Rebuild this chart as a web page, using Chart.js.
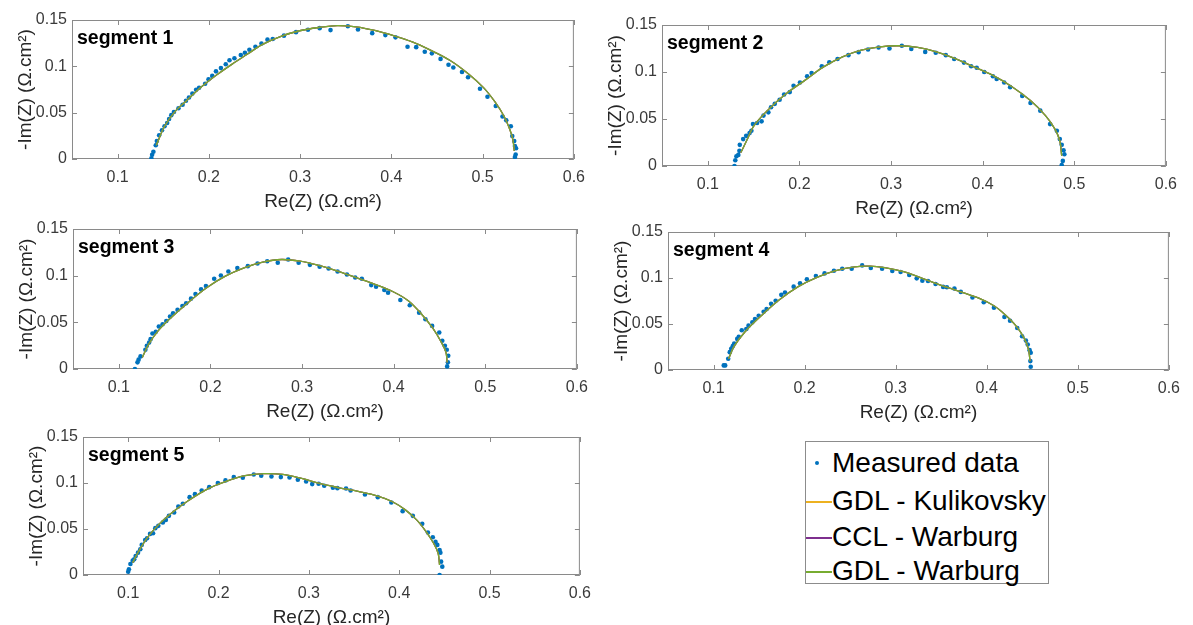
<!DOCTYPE html>
<html>
<head>
<meta charset="utf-8">
<script src="https://cdn.jsdelivr.net/npm/chart.js@4.4.1/dist/chart.umd.min.js"></script>
<style>
    body { margin: 0; width: 1193px; height: 625px; overflow: hidden; position: relative; background: #fff;
           font-family: "Liberation Sans", Arial, sans-serif; }
    canvas { position: absolute; }
    #leyenda { position: absolute; left: 805px; top: 441px; width: 244px; height: 143px;
               border: 1px solid #8c8c8c; box-sizing: border-box; background: #fff; }
    #leyenda .fila { position: absolute; left: 0; height: 36px; display: flex; align-items: center;
                     font-size: 28px; color: #000; white-space: nowrap; }
    #leyenda .marca { width: 26px; height: 36px; position: relative; flex: none; }
</style>
</head>
<body>
<div id="leyenda"></div>
<script>
// --- DATOS ---
const xTicks = [0.1, 0.2, 0.3, 0.4, 0.5, 0.6];
const xTickLabels = ['0.1', '0.2', '0.3', '0.4', '0.5', '0.6'];
const yTicks = [0, 0.05, 0.1, 0.15];
const yTickLabels = ['0', '0.05', '0.1', '0.15'];
const segmentNames = ['segment 1', 'segment 2', 'segment 3', 'segment 4', 'segment 5'];
const seriesNames = ['Measured data', 'GDL - Kulikovsky', 'CCL - Warburg', 'GDL - Warburg'];
const xTitle = 'Re(Z) (\u03A9.cm\u00B2)';
const yTitle = '-Im(Z) (\u03A9.cm\u00B2)';

// segmento 1
const seg1X = [0.137,0.1378,0.1392,0.1418,0.1430,0.1455,0.1486,0.1514,0.1543,0.1564,0.1588,0.1617,0.1667,0.1712,0.1749,0.1782,0.1819,0.1860,0.1893,0.1959,0.1996,0.2037,0.2078,0.2132,0.2185,0.2226,0.2280,0.2350,0.2395,0.2444,0.2510,0.2576,0.2642,0.2700,0.2823,0.2955,0.3086,0.3214,0.3333,0.3523,0.3634,0.3790,0.3934,0.4045,0.4177,0.4272,0.4366,0.4444,0.4539,0.4626,0.4679,0.4774,0.4840,0.4971,0.5053,0.5144,0.5218,0.5259,0.5309,0.5325,0.5346,0.5354,0.5366,0.5362,0.5354];
const seg1Y = [0.0007,0.0046,0.0078,0.0148,0.0194,0.0257,0.0311,0.0353,0.0388,0.0431,0.0473,0.0508,0.0547,0.0586,0.0628,0.0663,0.0706,0.0748,0.0769,0.0812,0.0861,0.0897,0.0946,0.0981,0.1023,0.1066,0.1087,0.1122,0.1147,0.1179,0.1211,0.1246,0.1288,0.1295,0.1331,0.1369,0.1394,0.1412,0.1391,0.1433,0.1398,0.1358,0.1337,0.1313,0.1211,0.1207,0.1158,0.1140,0.1080,0.1017,0.0988,0.0939,0.0882,0.0758,0.0671,0.0572,0.0459,0.0417,0.0353,0.0247,0.0194,0.0141,0.0116,0.0049,0.0021];
const fit1X = [0.1424,0.1514,0.1638,0.1761,0.1926,0.2091,0.2255,0.2420,0.2584,0.2790,0.2995,0.3201,0.3406,0.3612,0.3818,0.4023,0.4229,0.4434,0.4640,0.4846,0.5010,0.5134,0.5236,0.5298,0.5331,0.5347];
const fit1Y = [0.0148,0.0353,0.0522,0.0635,0.0784,0.0911,0.1024,0.1130,0.1235,0.1324,0.1384,0.1419,0.1440,0.1426,0.1387,0.1331,0.1264,0.1172,0.1066,0.0918,0.0770,0.0618,0.0459,0.0318,0.0212,0.0088];

// segmento 2
const seg2X = [0.1291,0.1300,0.1312,0.1333,0.1345,0.1349,0.1386,0.1419,0.1456,0.1476,0.1493,0.1538,0.1587,0.1608,0.1661,0.1690,0.1731,0.1784,0.1833,0.1895,0.1936,0.2006,0.2084,0.2133,0.2244,0.2326,0.2416,0.2535,0.2646,0.2749,0.2864,0.2983,0.3118,0.3221,0.3373,0.3488,0.3598,0.3689,0.3796,0.3874,0.3935,0.4017,0.4112,0.4153,0.4235,0.4300,0.4432,0.4522,0.4629,0.4736,0.4810,0.4842,0.4863,0.4883,0.4892,0.4875,0.4863];
const seg2Y = [0.0000,0.0061,0.0104,0.0118,0.0161,0.0225,0.0286,0.0321,0.0350,0.0375,0.0446,0.0457,0.0475,0.0536,0.0571,0.0625,0.0661,0.0704,0.0761,0.0786,0.0854,0.0889,0.0954,0.0989,0.1061,0.1104,0.1139,0.1179,0.1211,0.1239,0.1261,0.1250,0.1279,0.1246,0.1214,0.1204,0.1179,0.1139,0.1100,0.1061,0.1046,0.1000,0.0954,0.0925,0.0889,0.0839,0.0746,0.0671,0.0589,0.0446,0.0375,0.0286,0.0225,0.0168,0.0125,0.0054,0.0011];
const fit2X = [0.1361,0.1423,0.1505,0.1649,0.1854,0.2059,0.2264,0.2470,0.2675,0.2880,0.3085,0.3291,0.3496,0.3701,0.3906,0.4112,0.4317,0.4522,0.4686,0.4789,0.4842,0.4863];
const fit2Y = [0.0143,0.0268,0.0429,0.0589,0.0768,0.0911,0.1054,0.1161,0.1232,0.1268,0.1279,0.1261,0.1214,0.1143,0.1054,0.0964,0.0846,0.0696,0.0536,0.0393,0.0268,0.0107];

// segmento 3
const seg3X = [0.1176,0.1204,0.1216,0.1237,0.1290,0.1306,0.1331,0.1347,0.1367,0.1404,0.1437,0.1478,0.1518,0.1559,0.1592,0.1641,0.1694,0.1735,0.1788,0.1837,0.1898,0.1951,0.2041,0.2114,0.2196,0.2294,0.2408,0.2514,0.2620,0.2735,0.2849,0.2963,0.3086,0.3192,0.3290,0.3388,0.3490,0.3580,0.3653,0.3755,0.3808,0.3898,0.3939,0.4073,0.4176,0.4278,0.4347,0.4420,0.4498,0.4531,0.4559,0.4580,0.4596,0.4592,0.4584];
const seg3Y = [0.0000,0.0071,0.0100,0.0135,0.0206,0.0249,0.0284,0.0320,0.0380,0.0398,0.0455,0.0480,0.0515,0.0562,0.0597,0.0633,0.0675,0.0704,0.0754,0.0803,0.0853,0.0889,0.0967,0.1002,0.1045,0.1081,0.1102,0.1130,0.1155,0.1138,0.1173,0.1138,0.1116,0.1095,0.1077,0.1045,0.1013,0.0981,0.0967,0.0899,0.0882,0.0846,0.0818,0.0739,0.0683,0.0604,0.0533,0.0462,0.0391,0.0302,0.0249,0.0206,0.0142,0.0071,0.0028];
const fit3X = [0.1257,0.1327,0.1429,0.1551,0.1755,0.1959,0.2163,0.2367,0.2571,0.2776,0.2980,0.3184,0.3388,0.3592,0.3796,0.4000,0.4163,0.4306,0.4429,0.4522,0.4571,0.4584];
const fit3Y = [0.0124,0.0267,0.0409,0.0533,0.0711,0.0871,0.0995,0.1084,0.1145,0.1173,0.1155,0.1109,0.1049,0.0978,0.0907,0.0825,0.0729,0.0587,0.0434,0.0284,0.0178,0.0071];

// segmento 4
const seg4X = [0.1112,0.1128,0.1161,0.1178,0.1194,0.1211,0.1227,0.1260,0.1277,0.1310,0.1360,0.1384,0.1426,0.1455,0.1496,0.1550,0.1583,0.1632,0.1682,0.1744,0.1785,0.1880,0.1950,0.2025,0.2124,0.2219,0.2322,0.2413,0.2517,0.2632,0.2727,0.2851,0.2963,0.3054,0.3149,0.3231,0.3293,0.3355,0.3438,0.3521,0.3562,0.3645,0.3715,0.3843,0.3967,0.4079,0.4194,0.4256,0.4335,0.4388,0.4430,0.4450,0.4471,0.4483,0.4479,0.4483];
const seg4Y = [0.0050,0.0050,0.0122,0.0194,0.0230,0.0259,0.0288,0.0338,0.0360,0.0432,0.0446,0.0482,0.0518,0.0554,0.0590,0.0633,0.0662,0.0719,0.0752,0.0817,0.0842,0.0906,0.0942,0.0986,0.1022,0.1050,0.1079,0.1101,0.1101,0.1137,0.1108,0.1101,0.1076,0.1065,0.1032,0.0996,0.0971,0.0968,0.0935,0.0903,0.0899,0.0885,0.0849,0.0788,0.0737,0.0676,0.0576,0.0536,0.0457,0.0367,0.0320,0.0277,0.0216,0.0187,0.0097,0.0036];
const fit4X = [0.1165,0.1227,0.1351,0.1517,0.1723,0.1930,0.2136,0.2343,0.2550,0.2715,0.2880,0.3087,0.3293,0.3500,0.3707,0.3913,0.4079,0.4202,0.4326,0.4409,0.4459,0.4475];
const fit4Y = [0.0122,0.0259,0.0421,0.0583,0.0763,0.0906,0.1007,0.1079,0.1122,0.1129,0.1112,0.1068,0.0996,0.0921,0.0853,0.0781,0.0698,0.0601,0.0475,0.0349,0.0223,0.0097];

// segmento 5
const seg5X = [0.1000,0.1008,0.1025,0.1050,0.1067,0.1083,0.1109,0.1134,0.1150,0.1188,0.1209,0.1242,0.1275,0.1300,0.1334,0.1384,0.1417,0.1451,0.1509,0.1555,0.1605,0.1680,0.1739,0.1814,0.1897,0.1993,0.2077,0.2169,0.2269,0.2390,0.2473,0.2586,0.2690,0.2786,0.2878,0.2970,0.3037,0.3108,0.3170,0.3266,0.3316,0.3412,0.3462,0.3621,0.3763,0.3913,0.4038,0.4151,0.4255,0.4318,0.4372,0.4402,0.4422,0.4447,0.4456,0.4464,0.4477,0.4447];
const seg5Y = [0.0036,0.0062,0.0120,0.0156,0.0171,0.0207,0.0243,0.0280,0.0327,0.0381,0.0400,0.0447,0.0454,0.0509,0.0534,0.0570,0.0599,0.0643,0.0679,0.0745,0.0774,0.0846,0.0879,0.0919,0.0955,0.0999,0.1028,0.1064,0.1057,0.1093,0.1079,0.1072,0.1064,0.1061,0.1035,0.1017,0.0988,0.0992,0.0970,0.0948,0.0944,0.0941,0.0919,0.0875,0.0846,0.0788,0.0694,0.0643,0.0556,0.0461,0.0410,0.0360,0.0327,0.0272,0.0243,0.0145,0.0091,0.0000];
const fit5X = [0.1050,0.1104,0.1209,0.1334,0.1501,0.1668,0.1876,0.2085,0.2294,0.2503,0.2711,0.2920,0.3129,0.3337,0.3546,0.3755,0.3921,0.4068,0.4193,0.4297,0.4381,0.4431,0.4447];
const fit5Y = [0.0134,0.0236,0.0400,0.0545,0.0690,0.0810,0.0934,0.1017,0.1079,0.1101,0.1093,0.1050,0.0992,0.0948,0.0908,0.0861,0.0799,0.0708,0.0599,0.0472,0.0345,0.0236,0.0109];

// --- ESTILO Y POSICIONES ---
const colores = ['#0072BD', '#EDB120', '#7E2F8E', '#77AC30'];
const fuente = '"Liberation Sans", Arial, sans-serif';
// area de trazado de cada panel (pixeles de la pagina)
const paneles = [
    { left: 72,  right: 586,  top: 20,  bottom: 159 },
    { left: 662, right: 1178, top: 25,  bottom: 166 },
    { left: 73,  right: 589,  top: 229, bottom: 369 },
    { left: 668, right: 1181, top: 232, bottom: 370 },
    { left: 83,  right: 592,  top: 437, bottom: 575 }
];
const EJE_Y = 72, EJE_X = 58, PAD_T = 20, PAD_R = 8;

const medidos = [[seg1X, seg1Y], [seg2X, seg2Y], [seg3X, seg3Y], [seg4X, seg4Y], [seg5X, seg5Y]];
const ajustes = [[fit1X, fit1Y], [fit2X, fit2Y], [fit3X, fit3Y], [fit4X, fit4Y], [fit5X, fit5Y]];

function aPuntos(xs, ys) {
    return xs.map((x, i) => ({ x: x, y: ys[i] }));
}

// caja tipo MATLAB con marcas hacia dentro + etiqueta del segmento
const cajaEjes = {
    id: 'cajaEjes',
    beforeDatasetsDraw(chart) {
        const { ctx, chartArea: a, scales: { x, y } } = chart;
        ctx.save();
        ctx.strokeStyle = '#8a8a8a';
        ctx.lineWidth = 1;
        ctx.strokeRect(a.left + 0.5, a.top + 0.5, a.right - a.left - 1, a.bottom - a.top - 1);
        ctx.beginPath();
        xTicks.forEach(v => {
            const px = Math.round(x.getPixelForValue(v)) + 0.5;
            ctx.moveTo(px, a.bottom); ctx.lineTo(px, a.bottom - 5);
            ctx.moveTo(px, a.top); ctx.lineTo(px, a.top + 5);
        });
        yTicks.forEach(v => {
            const py = Math.round(y.getPixelForValue(v)) + 0.5;
            ctx.moveTo(a.left, py); ctx.lineTo(a.left + 5, py);
            ctx.moveTo(a.right, py); ctx.lineTo(a.right - 5, py);
        });
        ctx.stroke();
        ctx.restore();
    },
    afterDatasetsDraw(chart, args, opts) {
        const { ctx, chartArea: a } = chart;
        ctx.save();
        ctx.font = 'bold 19.5px ' + fuente;
        ctx.fillStyle = '#000';
        ctx.textBaseline = 'middle';
        ctx.fillText(opts.etiqueta, a.left + 5, a.top + 19);
        ctx.restore();
    }
};

function crearPanel(i) {
    const p = paneles[i];
    const canvas = document.createElement('canvas');
    const w = (p.right - p.left) + EJE_Y + PAD_R;
    const h = (p.bottom - p.top) + PAD_T + EJE_X;
    canvas.width = w;
    canvas.height = h;
    canvas.style.left = (p.left - EJE_Y) + 'px';
    canvas.style.top = (p.top - PAD_T) + 'px';
    canvas.style.width = w + 'px';
    canvas.style.height = h + 'px';
    document.body.appendChild(canvas);

    const fit = aPuntos(ajustes[i][0], ajustes[i][1]);
    const lineas = [1, 2, 3].map(k => ({
        label: seriesNames[k],
        data: fit,
        showLine: true,
        borderColor: colores[k],
        borderWidth: 1.3,
        pointRadius: 0,
        tension: 0.35,
        order: 4 - k
    }));

    new Chart(canvas, {
        type: 'scatter',
        data: {
            datasets: [{
                label: seriesNames[0],
                data: aPuntos(medidos[i][0], medidos[i][1]),
                backgroundColor: colores[0],
                borderWidth: 0,
                pointRadius: 2.3,
                order: 4
            }].concat(lineas)
        },
        options: {
            responsive: false,
            animation: false,
            devicePixelRatio: 1,
            layout: { padding: { top: PAD_T, right: PAD_R, left: 0, bottom: 0 } },
            plugins: {
                legend: { display: false },
                tooltip: { enabled: false },
                cajaEjes: { etiqueta: segmentNames[i] }
            },
            scales: {
                x: {
                    type: 'linear', min: 0.05, max: 0.6,
                    afterBuildTicks: s => { s.ticks = xTicks.map(v => ({ value: v })); },
                    afterFit: s => { s.height = EJE_X; },
                    grid: { display: false, drawTicks: false },
                    border: { display: false },
                    ticks: {
                        padding: 9, color: '#3a3a3a', maxRotation: 0,
                        font: { family: fuente, size: 16 },
                        callback: (v, idx) => xTickLabels[idx]
                    },
                    title: {
                        display: true, text: xTitle, color: '#262626',
                        font: { family: fuente, size: 19 },
                        padding: { top: 0, bottom: 4 }
                    }
                },
                y: {
                    type: 'linear', min: 0, max: 0.15,
                    afterBuildTicks: s => { s.ticks = yTicks.map(v => ({ value: v })); },
                    afterFit: s => { s.width = EJE_Y; },
                    grid: { display: false, drawTicks: false },
                    border: { display: false },
                    ticks: {
                        padding: 5, color: '#3a3a3a',
                        font: { family: fuente, size: 16 },
                        callback: (v, idx) => yTickLabels[idx]
                    },
                    title: {
                        display: true, text: yTitle, color: '#262626',
                        font: { family: fuente, size: 19 },
                        padding: { top: 14, bottom: 0 }
                    }
                }
            }
        },
        plugins: [cajaEjes]
    });
}

for (let i = 0; i < paneles.length; i++) crearPanel(i);

// --- LEYENDA ---
const leyenda = document.getElementById('leyenda');
const filasTop = [3, 41, 77, 111];
seriesNames.forEach((nombre, k) => {
    const fila = document.createElement('div');
    fila.className = 'fila';
    fila.style.top = filasTop[k] + 'px';
    const marca = document.createElement('div');
    marca.className = 'marca';
    const m = document.createElement('div');
    m.style.position = 'absolute';
    m.style.background = colores[k];
    if (k === 0) {
        m.style.left = '9px'; m.style.top = '16px';
        m.style.width = '4px'; m.style.height = '4px'; m.style.borderRadius = '50%';
    } else {
        m.style.left = '0px'; m.style.top = '18px';
        m.style.width = '26px'; m.style.height = '2px';
    }
    marca.appendChild(m);
    const txt = document.createElement('span');
    txt.textContent = nombre;
    fila.appendChild(marca);
    fila.appendChild(txt);
    leyenda.appendChild(fila);
});
</script>
</body>
</html>
